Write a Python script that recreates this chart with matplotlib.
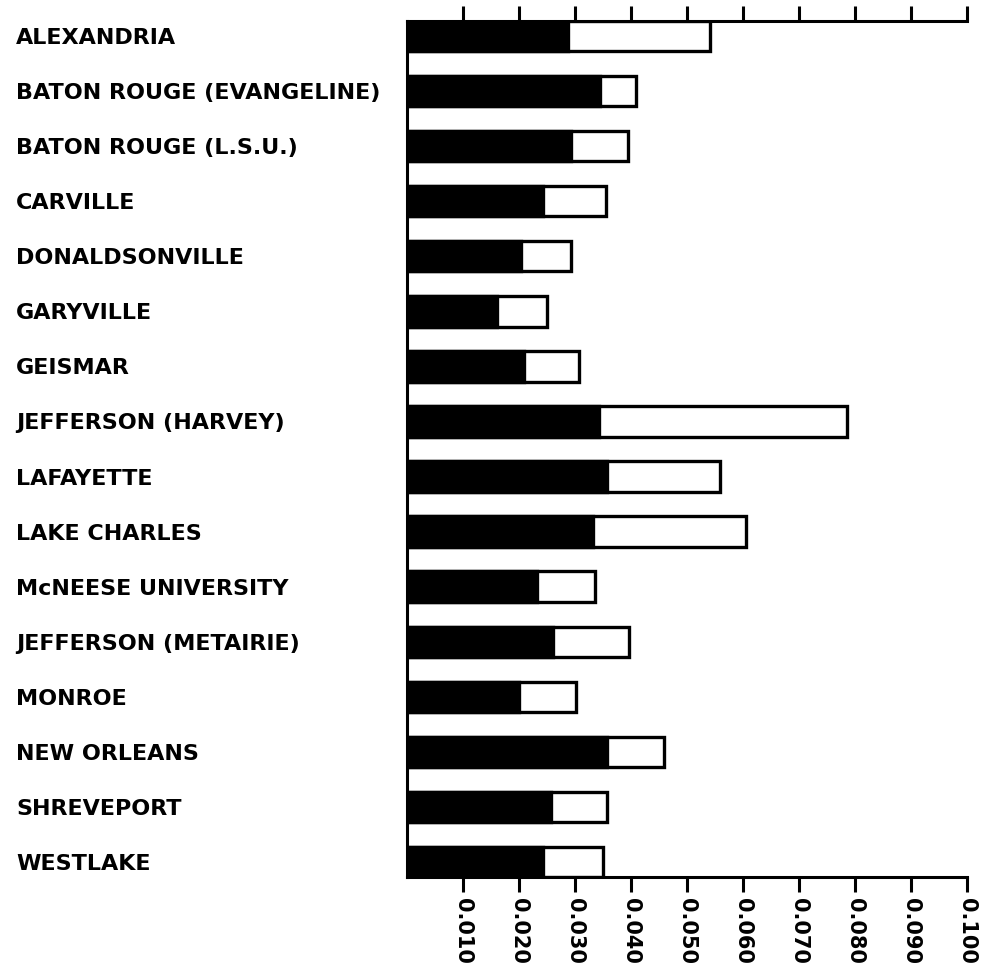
import matplotlib
matplotlib.use("Agg")
import matplotlib.pyplot as plt
import numpy as np

# Stations, top to bottom
stations = [
    "ALEXANDRIA",
    "BATON ROUGE (EVANGELINE)",
    "BATON ROUGE (L.S.U.)",
    "CARVILLE",
    "DONALDSONVILLE",
    "GARYVILLE",
    "GEISMAR",
    "JEFFERSON (HARVEY)",
    "LAFAYETTE",
    "LAKE CHARLES",
    "McNEESE UNIVERSITY",
    "JEFFERSON (METAIRIE)",
    "MONROE",
    "NEW ORLEANS",
    "SHREVEPORT",
    "WESTLAKE",
]

# Solid (black) portion of each bar
solid_values = [0.0287, 0.0345, 0.0293, 0.0242, 0.0203, 0.0160, 0.0209, 0.0343,
                0.0358, 0.0333, 0.0233, 0.0261, 0.0200, 0.0357, 0.0257, 0.0243]
# Full extent of each bar (solid + open portion)
total_values = [0.0541, 0.0409, 0.0395, 0.0355, 0.0293, 0.0250, 0.0307, 0.0786,
                0.0559, 0.0605, 0.0336, 0.0396, 0.0302, 0.0459, 0.0357, 0.0350]

x_ticks = [0.010, 0.020, 0.030, 0.040, 0.050, 0.060, 0.070, 0.080, 0.090, 0.100]
x_tick_labels = ["0.010", "0.020", "0.030", "0.040", "0.050",
                 "0.060", "0.070", "0.080", "0.090", "0.100"]

plt.rcParams["font.family"] = ["DejaVu Sans"]
plt.rcParams["font.weight"] = "bold"

W, H = 989, 967
fig = plt.figure(figsize=(W / 100, H / 100), dpi=100)
ax = fig.add_axes([407 / W, 1 - 877 / H, (967 - 407) / W, (877 - 21) / H])

y = np.arange(len(stations))
bar_h = 0.55
lw = 2.4

# open outline for the full extent, then the solid portion on top
ax.barh(y, total_values, height=bar_h, color="white", edgecolor="black",
        linewidth=lw, zorder=2)
ax.barh(y, solid_values, height=bar_h, color="black", edgecolor="black",
        linewidth=lw, zorder=3)

ax.set_xlim(0, 0.100)
ax.set_ylim(len(stations) - 1 + bar_h / 2, -bar_h / 2)

ax.spines["right"].set_visible(False)
for side in ["top", "bottom", "left"]:
    ax.spines[side].set_linewidth(2.2)
    ax.spines[side].set_zorder(4)

ax.set_xticks(x_ticks)
ax.set_xticklabels(x_tick_labels, rotation=-90, fontsize=15, fontweight="bold",
                   va="top", ha="center")
ax.tick_params(axis="x", which="both", top=True, bottom=True, direction="out",
               length=11, width=2.2, pad=4, labeltop=False, labelbottom=True)

ax.set_yticks(y)
ax.set_yticklabels(stations, fontsize=16, fontweight="bold", ha="left")
ax.tick_params(axis="y", length=0, pad=391 * 72 / 100)

fig.savefig("out.png", dpi=100, facecolor="white")
